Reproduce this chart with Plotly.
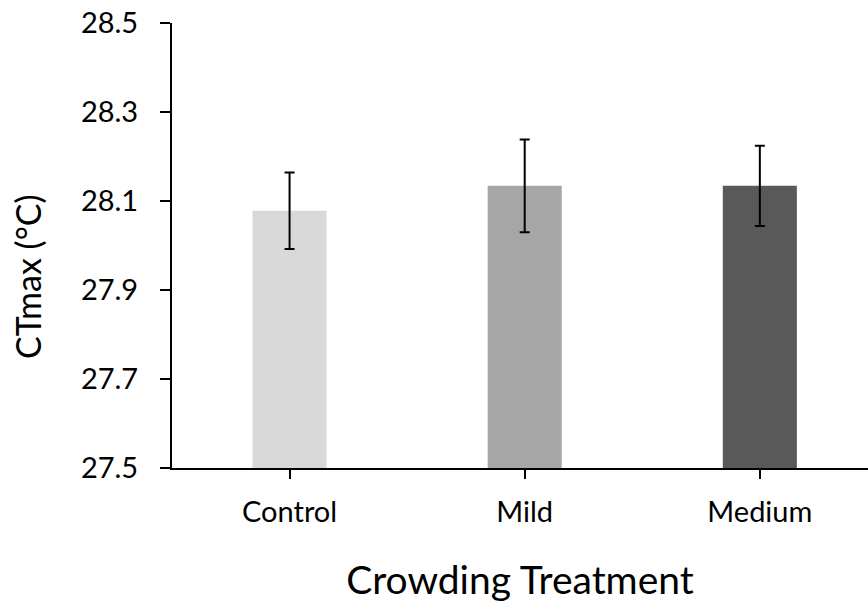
import plotly.graph_objects as go

categories = ["Control", "Mild", "Medium"]
ctmax_mean = [28.078, 28.134, 28.134]
ctmax_err = [0.086, 0.104, 0.090]
bar_colors = ["#D9D9D9", "#A6A6A6", "#595959"]
y_base = 27.5
y_ticks = [27.5, 27.7, 27.9, 28.1, 28.3, 28.5]
y_ticklabels = ["27.5", "27.7", "27.9", "28.1", "28.3", "28.5"]

FONT = "Lato, 'Open Sans', sans-serif"

W, H = 868, 610
ML, MT, MB, MR = 172, 23, 142, 0

fig = go.Figure()
fig.add_trace(go.Bar(
    x=categories,
    y=[v - y_base for v in ctmax_mean],
    base=y_base,
    marker=dict(color=bar_colors, line=dict(width=0)),
    width=0.315,
    error_y=dict(type="data", array=ctmax_err, visible=True,
                 color="black", thickness=2, width=5),
    hovertext=[f"{v:.3f}" for v in ctmax_mean],
))

plot_w = W - ML - MR
plot_h = H - MT - MB

fig.update_layout(
    width=W, height=H,
    margin=dict(l=ML, r=MR, t=MT, b=MB),
    plot_bgcolor="white", paper_bgcolor="white",
    showlegend=False,
    font=dict(family=FONT, color="black", size=29),
)
fig.update_xaxes(
    range=[-0.5, 2.46],
    showline=True, linecolor="black", linewidth=2,
    ticks="outside", ticklen=9, tickwidth=2, tickcolor="black",
    tickfont=dict(size=29, family=FONT, color="black"),
    ticklabelstandoff=8, ticklabeloverflow="allow",
    title=dict(text="Crowding Treatment", font=dict(size=39, family=FONT, color="black"), standoff=40),
    showgrid=False, zeroline=False, automargin=False,
)
fig.update_yaxes(
    range=[27.5, 28.5],
    tickvals=y_ticks, ticktext=y_ticklabels,
    showline=True, linecolor="black", linewidth=2,
    ticks="outside", ticklen=10, tickwidth=2, tickcolor="black",
    tickfont=dict(size=29, family=FONT, color="black"),
    ticklabelstandoff=16, ticklabeloverflow="allow",
    showgrid=False, zeroline=False, automargin=False,
)
# y-axis title placed as in the reference (centre at x~27, y~277)
fig.add_annotation(
    text="CTmax (°C)", textangle=-90, showarrow=False,
    xref="paper", yref="paper",
    x=(27 - ML) / plot_w, y=(MT + plot_h - 277) / plot_h,
    xanchor="center", yanchor="middle",
    font=dict(size=34, family=FONT, color="black"),
)

fig.write_html("out.html", config={"displayModeBar": False},
               post_script="document.body.style.margin='0';")
